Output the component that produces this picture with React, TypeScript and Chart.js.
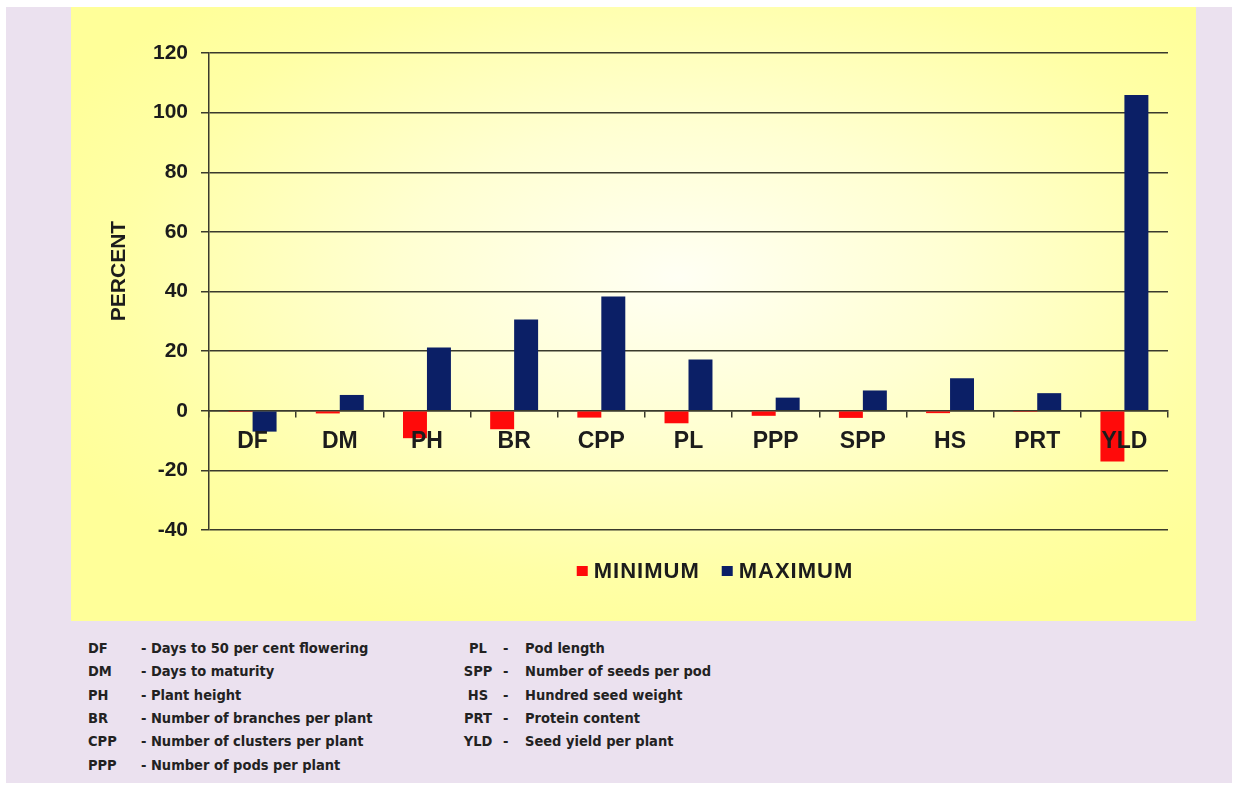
import React, { useEffect, useRef } from "react";
import { Chart, registerables } from "chart.js";

Chart.register(...registerables);

// Trait abbreviations on the category axis
const categories = ["DF", "DM", "PH", "BR", "CPP", "PL", "PPP", "SPP", "HS", "PRT", "YLD"];

// Percent change per trait
const minimumValues = [-0.4, -0.9, -9.2, -6.2, -2.3, -4.2, -1.7, -2.4, -0.8, -0.4, -17.0];
const maximumValues = [-7.0, 5.3, 21.2, 30.6, 38.3, 17.2, 4.4, 6.8, 10.9, 5.9, 105.9];

const seriesNames = ["MINIMUM", "MAXIMUM"];
const seriesColors = ["#ff0a0a", "#0b1f66"];

// Value axis range
const yMin = -40;
const yMax = 120;
const yStep = 20;
const yTitle = "PERCENT";

// Key below the chart
const leftAbbr = ["DF", "DM", "PH", "BR", "CPP", "PPP"];
const leftDesc = [
  "Days to 50 per cent flowering",
  "Days to maturity",
  "Plant height",
  "Number of branches per plant",
  "Number of clusters per plant",
  "Number of pods per plant",
];
const rightAbbr = ["PL", "SPP", "HS", "PRT", "YLD"];
const rightDesc = [
  "Pod length",
  "Number of seeds per pod",
  "Hundred seed weight",
  "Protein content",
  "Seed yield per plant",
];

const FONT = "'Liberation Sans', Arial, Helvetica, sans-serif";
const INK = "#1c1c1c";
const AXIS_LINE = "#3a3a2c";

// Draws the rotated axis title and the centred legend row
const sideTextPlugin = {
  id: "sideText",
  afterDraw(chart: any) {
    const ctx = chart.ctx as CanvasRenderingContext2D;
    ctx.save();

    // axis title
    ctx.save();
    ctx.fillStyle = INK;
    ctx.font = `bold 21px ${FONT}`;
    ctx.translate(48.5, 264);
    ctx.rotate(-Math.PI / 2);
    ctx.textAlign = "center";
    ctx.textBaseline = "middle";
    ctx.fillText(yTitle, 0, 0);
    ctx.restore();

    // legend
    const centerX = 644;
    const centerY = 564;
    const box = 11;
    const gap = 6;
    const itemGap = 22;
    ctx.font = `bold 22px ${FONT}`;
    (ctx as any).letterSpacing = "1px";
    const items = chart.data.datasets.map((d: any) => ({
      label: d.label as string,
      color: d.backgroundColor as string,
      w: ctx.measureText(d.label).width,
    }));
    const total =
      items.reduce((s: number, it: any) => s + box + gap + it.w, 0) + itemGap * (items.length - 1);
    let x = centerX - total / 2;
    ctx.textBaseline = "middle";
    ctx.textAlign = "left";
    for (const it of items) {
      ctx.fillStyle = it.color;
      ctx.fillRect(x, centerY - 5, box, 10);
      x += box + gap;
      ctx.fillStyle = INK;
      ctx.fillText(it.label, x, centerY + 1);
      x += it.w + itemGap;
    }
    ctx.restore();
  },
};

function BarChart() {
  const canvasRef = useRef<HTMLCanvasElement | null>(null);

  useEffect(() => {
    const canvas = canvasRef.current;
    if (!canvas) return;
    const chart = new Chart(canvas, {
      type: "bar",
      data: {
        labels: categories,
        datasets: [
          {
            label: seriesNames[0],
            data: minimumValues,
            backgroundColor: seriesColors[0],
            categoryPercentage: 0.55,
            barPercentage: 1.0,
          },
          {
            label: seriesNames[1],
            data: maximumValues,
            backgroundColor: seriesColors[1],
            categoryPercentage: 0.55,
            barPercentage: 1.0,
          },
        ],
      },
      options: {
        animation: false,
        responsive: false,
        maintainAspectRatio: false,
        layout: { padding: { top: 46, right: 28, bottom: 91, left: 0 } },
        plugins: {
          legend: { display: false },
          tooltip: { enabled: false },
        },
        scales: {
          x: {
            // category labels sit on the zero line, painted over the bars
            position: { y: 0 } as any,
            afterFit: (s: any) => {
              s.height = 0;
            },
            grid: {
              drawOnChartArea: false,
              drawTicks: true,
              tickLength: 6,
              color: AXIS_LINE,
              lineWidth: 1.5,
            },
            border: { display: true, color: AXIS_LINE, width: 1.5 },
            ticks: {
              z: 1,
              color: INK,
              padding: 11,
              font: { family: FONT, size: 23, weight: "bold" },
              maxRotation: 0,
              autoSkip: false,
            },
          },
          y: {
            min: yMin,
            max: yMax,
            afterFit: (s: any) => {
              s.width = 138;
            },
            ticks: {
              stepSize: yStep,
              color: INK,
              padding: 13,
              font: { family: FONT, size: 21, weight: "bold" },
            },
            grid: {
              color: AXIS_LINE,
              lineWidth: 1.5,
              tickLength: 8,
              drawTicks: true,
            },
            border: { display: true, color: AXIS_LINE, width: 1.5 },
          },
        },
      },
      plugins: [sideTextPlugin],
    });
    return () => chart.destroy();
  }, []);

  return <canvas ref={canvasRef} width={1125} height={614} style={{ display: "block" }} />;
}

const keyFont: React.CSSProperties = {
  fontFamily: "'DejaVu Sans Condensed', 'DejaVu Sans', sans-serif",
  fontStretch: "condensed",
  fontWeight: "bold",
  fontSize: "14.5px",
  lineHeight: "17px",
  color: "#222",
  whiteSpace: "nowrap",
  position: "absolute",
};

export default function App() {
  const rowTop = (i: number) => 640 + 23.3 * i;
  return (
    <div
      style={{
        position: "absolute",
        left: 0,
        top: 0,
        width: 1235,
        height: 785,
        background: "#ffffff",
        overflow: "hidden",
      }}
    >
      <div
        style={{
          position: "absolute",
          left: 6,
          top: 7,
          width: 1226,
          height: 776,
          background: "#ebe1ef",
        }}
      />
      <div
        style={{
          position: "absolute",
          left: 71,
          top: 7,
          width: 1125,
          height: 614,
          background:
            "radial-gradient(ellipse 62% 62% at 54% 44%, #fffff4 0%, #ffffd2 40%, #ffffa6 80%, #ffff99 100%)",
        }}
      >
        <BarChart />
      </div>
      {leftAbbr.map((a, i) => (
        <React.Fragment key={"l" + a}>
          <span style={{ ...keyFont, left: 88, top: rowTop(i) }}>{a}</span>
          <span style={{ ...keyFont, left: 141, top: rowTop(i) }}>{"- " + leftDesc[i]}</span>
        </React.Fragment>
      ))}
      {rightAbbr.map((a, i) => (
        <React.Fragment key={"r" + a}>
          <span style={{ ...keyFont, left: 458, width: 40, textAlign: "center", top: rowTop(i) }}>{a}</span>
          <span style={{ ...keyFont, left: 503, top: rowTop(i) }}>-</span>
          <span style={{ ...keyFont, left: 525, top: rowTop(i) }}>{rightDesc[i]}</span>
        </React.Fragment>
      ))}
    </div>
  );
}
